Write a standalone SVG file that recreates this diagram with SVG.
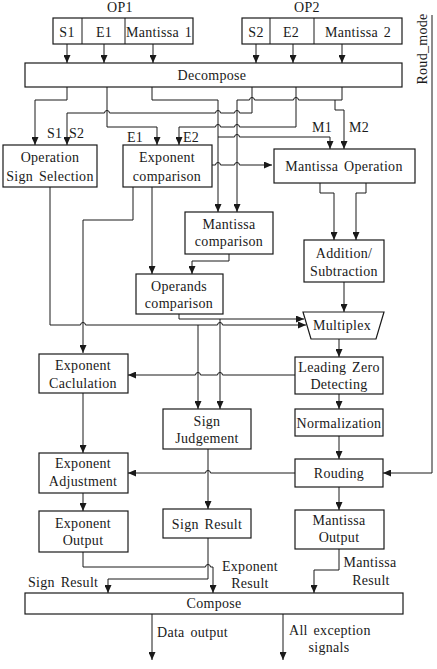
<svg xmlns="http://www.w3.org/2000/svg" width="437" height="669" viewBox="0 0 437 669">
<defs>
<marker id="ar" markerUnits="userSpaceOnUse" markerWidth="8" markerHeight="7" refX="8" refY="3.5" orient="auto">
<path d="M0,0 L8,3.5 L0,7 z" fill="#1a1a1a"/>
</marker>
<style>
.b{fill:#fff;stroke:#1a1a1a;stroke-width:1.2}
.c{fill:none;stroke:#1a1a1a;stroke-width:1}
.a{marker-end:url(#ar)}
text{font-family:"Liberation Serif","Times New Roman",serif;font-size:14px;fill:#1a1a1a;letter-spacing:0.3px;word-spacing:2px}
.m{text-anchor:middle}
</style>
</defs>
<rect width="437" height="669" fill="#fff"/>
<g id="connectors" class="c">
<path class="a" d="M67,44 V63"/>
<path class="a" d="M104,44 V63"/>
<path class="a" d="M153,44 V63"/>
<path class="a" d="M256,44 V63"/>
<path class="a" d="M293,44 V63"/>
<path class="a" d="M342,44 V63"/>
<path class="a" d="M67,87 V100 H35 V145"/>
<path class="a" d="M107,87 V127 H157 V145"/>
<path class="a" d="M152,87 V100 H218 V212"/>
<path class="a" d="M218,137 H234.5 A2.5,2.5 0 0 1 239.5,137 H330 V149"/>
<path class="a" d="M252,87 V113 H239.5 A2.5,2.5 0 0 0 234.5,113 H220.5 A2.5,2.5 0 0 0 215.5,113 H109.5 A2.5,2.5 0 0 0 104.5,113 H67 V145"/>
<path class="a" d="M296,87 V127 H239.5 A2.5,2.5 0 0 0 234.5,127 H220.5 A2.5,2.5 0 0 0 215.5,127 H179 V145"/>
<path class="a" d="M342,87 V100 H335 V110 H344 V149"/>
<path class="a" d="M335,100 H298.5 A2.5,2.5 0 0 0 293.5,100 H254.5 A2.5,2.5 0 0 0 249.5,100 H237 V212"/>
<path class="a" d="M212,165 H215.5 A2.5,2.5 0 0 1 220.5,165 H234.5 A2.5,2.5 0 0 1 239.5,165 H272"/>
<path class="a" d="M320,183 V193 H334 V240"/>
<path class="a" d="M366,183 V193 H356 V240"/>
<path class="a" d="M344,282 V312"/>
<path class="a" d="M133,187 V220 H83 V353"/>
<path class="a" d="M152,187 V274"/>
<path class="a" d="M229,254 V261 H192 V274"/>
<path class="a" d="M50,187 V325 H80.5 A2.5,2.5 0 0 1 85.5,325 H217.5 A2.5,2.5 0 0 1 222.5,325 H306"/>
<path class="a" d="M179,314 V319 H304"/>
<path class="a" d="M198,325 V409"/>
<path class="a" d="M220,319 V409"/>
<path class="a" d="M339,339 V357"/>
<path class="a" d="M339,394 V409"/>
<path class="a" d="M339,436 V459"/>
<path class="a" d="M339,487 V510"/>
<path class="a" d="M295,375 H222.5 A2.5,2.5 0 0 0 217.5,375 H200.5 A2.5,2.5 0 0 0 195.5,375 H128"/>
<path class="a" d="M295,473 H210.5 A2.5,2.5 0 0 0 205.5,473 H128"/>
<path class="a" d="M83,393 V453"/>
<path class="a" d="M83,493 V511"/>
<path class="a" d="M208,449 V509"/>
<path class="a" d="M208,538 V579 H108 V593"/>
<path class="a" d="M83,552 V567 H205.5 A2.5,2.5 0 0 1 210.5,567 H213 V593"/>
<path class="a" d="M339,549 V570 H314 V593"/>
<path class="a" d="M432,15 V473 H383"/>
<path class="a" d="M152,614 V660"/>
<path class="a" d="M283,614 V660"/>
</g>
<g id="op1">
<rect class="b" x="53" y="18" width="140" height="26"/>
<path class="c" d="M82,18 V44 M125,18 V44"/>
<text class="m" x="120" y="12">OP1</text>
<text class="m" x="67" y="37">S1</text>
<text class="m" x="104" y="37">E1</text>
<text class="m" x="159" y="37">Mantissa 1</text>
</g>
<g id="op2">
<rect class="b" x="242" y="18" width="160" height="26"/>
<path class="c" d="M270,18 V44 M314,18 V44"/>
<text class="m" x="307" y="12">OP2</text>
<text class="m" x="256" y="37">S2</text>
<text class="m" x="291" y="37">E2</text>
<text class="m" x="358" y="37">Mantissa 2</text>
</g>
<g id="roud_mode">
<text class="m" transform="translate(427,49) rotate(-90)">Roud_mode</text>
</g>
<g id="decompose">
<rect class="b" x="25" y="63" width="377" height="24"/>
<text class="m" x="212" y="80">Decompose</text>
</g>
<g id="labels-top">
<text x="47" y="138">S1</text>
<text x="69" y="138">S2</text>
<text x="127" y="142">E1</text>
<text x="183" y="142">E2</text>
<text x="312" y="132">M1</text>
<text x="349" y="132">M2</text>
</g>
<g id="oss">
<rect class="b" x="3" y="145" width="94" height="42"/>
<text class="m" x="50" y="162">Operation</text>
<text class="m" x="50" y="181">Sign Selection</text>
</g>
<g id="expcomp">
<rect class="b" x="123" y="145" width="89" height="42"/>
<text class="m" x="167" y="162">Exponent</text>
<text class="m" x="167" y="181">comparison</text>
</g>
<g id="mantop">
<rect class="b" x="274" y="149" width="141" height="34"/>
<text class="m" x="344" y="171">Mantissa Operation</text>
</g>
<g id="mantcomp">
<rect class="b" x="185" y="212" width="88" height="42"/>
<text class="m" x="229" y="229">Mantissa</text>
<text class="m" x="229" y="246">comparison</text>
</g>
<g id="addsub">
<rect class="b" x="304" y="240" width="80" height="42"/>
<text class="m" x="344" y="258">Addition/</text>
<text class="m" x="344" y="276">Subtraction</text>
</g>
<g id="operands">
<rect class="b" x="136" y="274" width="87" height="40"/>
<text class="m" x="179" y="291">Operands</text>
<text class="m" x="179" y="308">comparison</text>
</g>
<g id="multiplex">
<path class="b" d="M303,312 H384 L376,339 H311 Z"/>
<text class="m" x="342" y="330">Multiplex</text>
</g>
<g id="expcalc">
<rect class="b" x="39" y="354" width="89" height="39"/>
<text class="m" x="83" y="370">Exponent</text>
<text class="m" x="83" y="388">Caclulation</text>
</g>
<g id="lzd">
<rect class="b" x="295" y="357" width="88" height="37"/>
<text class="m" x="339" y="372">Leading Zero</text>
<text class="m" x="339" y="389">Detecting</text>
</g>
<g id="signj">
<rect class="b" x="163" y="409" width="88" height="40"/>
<text class="m" x="207" y="426">Sign</text>
<text class="m" x="207" y="443">Judgement</text>
</g>
<g id="norm">
<rect class="b" x="295" y="409" width="88" height="27"/>
<text class="m" x="339" y="428">Normalization</text>
</g>
<g id="expadj">
<rect class="b" x="39" y="453" width="89" height="40"/>
<text class="m" x="83" y="468">Exponent</text>
<text class="m" x="83" y="486">Adjustment</text>
</g>
<g id="rouding">
<rect class="b" x="295" y="459" width="88" height="28"/>
<text class="m" x="339" y="478">Rouding</text>
</g>
<g id="expout">
<rect class="b" x="39" y="511" width="89" height="41"/>
<text class="m" x="83" y="528">Exponent</text>
<text class="m" x="83" y="545">Output</text>
</g>
<g id="signres">
<rect class="b" x="163" y="509" width="88" height="29"/>
<text class="m" x="207" y="529">Sign Result</text>
</g>
<g id="mantout">
<rect class="b" x="295" y="510" width="89" height="39"/>
<text class="m" x="339" y="525">Mantissa</text>
<text class="m" x="339" y="542">Output</text>
</g>
<g id="labels-bottom">
<text x="28" y="587">Sign Result</text>
<text class="m" x="250" y="571">Exponent</text>
<text class="m" x="250" y="588">Result</text>
<text class="m" x="370" y="567">Mantissa</text>
<text class="m" x="371" y="585">Result</text>
<text x="157" y="637">Data output</text>
<text x="289" y="635">All exception</text>
<text class="m" x="329" y="652">signals</text>
</g>
<g id="compose">
<rect class="b" x="25" y="593" width="378" height="21"/>
<text class="m" x="214" y="608">Compose</text>
</g>
</svg>
